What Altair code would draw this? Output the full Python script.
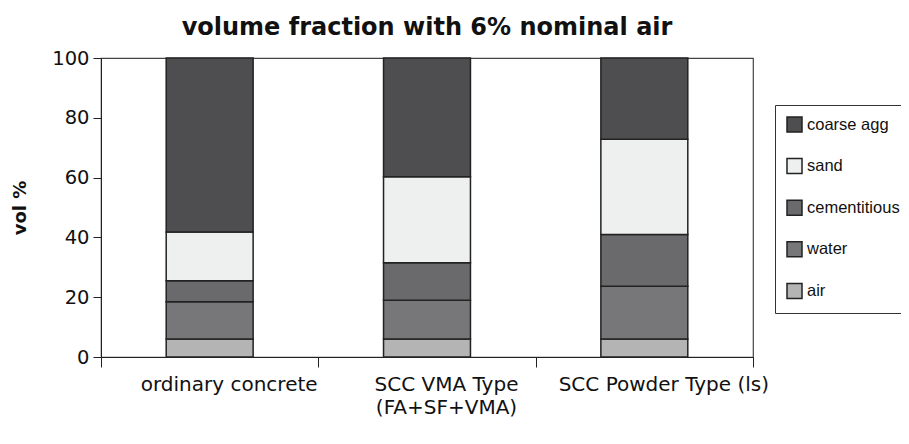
import altair as alt
import pandas as pd

categories = ["ordinary concrete", "SCC VMA Type\n(FA+SF+VMA)", "SCC Powder Type (ls)"]
materials = ["air", "water", "cementitious", "sand", "coarse agg"]  # bottom to top
air = [6.0, 6.0, 6.0]
water = [12.5, 13.0, 17.7]
cementitious = [7.0, 12.5, 17.3]
sand = [16.3, 28.8, 31.8]
coarse_agg = [58.2, 39.7, 27.2]

legend_order = ["coarse agg", "sand", "cementitious", "water", "air"]
legend_colors = ["#4e4e50", "#eef0ef", "#6a6a6c", "#777779", "#b4b4b4"]

series = [air, water, cementitious, sand, coarse_agg]
rows = []
for mi, (m, vals) in enumerate(zip(materials, series)):
    for c, v in zip(categories, vals):
        rows.append({"category": c, "material": m, "value": v, "order": mi})
df = pd.DataFrame(rows)

chart = alt.Chart(df).mark_bar(
    width=alt.RelativeBandSize(0.4), stroke="#222222", strokeWidth=1.5
).encode(
    x=alt.X("category:N", sort=categories, title=None,
            scale=alt.Scale(paddingInner=0, paddingOuter=0),
            axis=alt.Axis(labelAngle=0, labelExpr="split(datum.label, '\\n')",
                          tickBand="extent", tickSize=10, labelPadding=7,
                          labelFontSize=20, labelLineHeight=23, labelOffset=19,
                          labelLimit=400,
                          labelColor="#111", domainColor="#222", tickColor="#222",
                          labelBaseline="top")),
    y=alt.Y("value:Q", stack="zero", title="vol %",
            scale=alt.Scale(domain=[0, 100]),
            axis=alt.Axis(values=[0, 20, 40, 60, 80, 100], grid=False, tickSize=8,
                          labelPadding=4, labelFontSize=19.5, labelColor="#111",
                          domainColor="#222", tickColor="#222",
                          titleFontSize=18, titleFontWeight="bold", titleColor="#111",
                          titleX=-81, titleBaseline="middle")),
    fill=alt.Fill("material:N", scale=alt.Scale(domain=legend_order, range=legend_colors),
                  legend=alt.Legend(title=None, orient="none", legendX=674, legendY=47,
                                    symbolType="square", symbolSize=225,
                                    symbolStrokeColor="#222", symbolStrokeWidth=1.5,
                                    labelFont="Liberation Sans",
                                    labelFontSize=16.5, labelColor="#111", labelOffset=4,
                                    labelLimit=300,
                                    rowPadding=20.6, padding=11, strokeColor="#333",
                                    fillColor="white")),
    order=alt.Order("order:Q", sort="ascending"),
).properties(
    width=652, height=299,
    autosize=alt.AutoSizeParams(type="none"),
    padding={"left": 93, "top": 50, "right": 148, "bottom": 79},
    title=alt.TitleParams("volume fraction with 6% nominal air", fontSize=24,
                          fontWeight="bold", color="#111", anchor="middle", offset=8),
).configure(
    font="DejaVu Sans"
).configure_view(
    stroke="#444", strokeWidth=1.2
)

chart.save("out.html", embed_options={"renderer": "svg", "actions": False})
